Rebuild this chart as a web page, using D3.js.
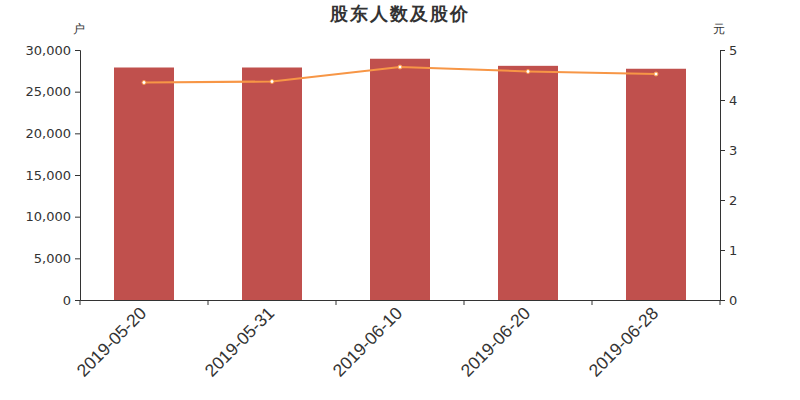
<!DOCTYPE html>
<html><head><meta charset="utf-8">
<script src="https://cdn.jsdelivr.net/npm/d3@7"></script>
<style>body{margin:0;background:#fff;}svg{display:block;font-family:"DejaVu Sans",sans-serif;}</style>
</head><body><svg id="c" width="800" height="400"></svg>
<script>
const categories = ["2019-05-20","2019-05-31","2019-06-10","2019-06-20","2019-06-28"];
const holders = [27900, 27900, 28950, 28100, 27750];
const prices = [4.35, 4.37, 4.66, 4.57, 4.52];
const leftTicks = [0,5000,10000,15000,20000,25000,30000];
const rightTicks = [0,1,2,3,4,5];

const svg = d3.select("#c");
const L=80,R=720,T=50,B=300;
const xb = d3.scaleBand().domain(categories).range([L,R]);
const yL = d3.scaleLinear().domain([0,30000]).range([B,T]);
const yR = d3.scaleLinear().domain([0,5]).range([B,T]);

svg.append("text").attr("x",400).attr("y",20).attr("text-anchor","middle")
  .attr("font-size",18).attr("font-weight","bold").attr("fill","#333").attr("letter-spacing",2).text("股东人数及股价");
svg.append("text").attr("x",79).attr("y",33).attr("text-anchor","middle").attr("font-size",12).attr("fill","#333").text("户");
svg.append("text").attr("x",719).attr("y",33).attr("text-anchor","middle").attr("font-size",12).attr("fill","#333").text("元");

svg.selectAll("rect.bar").data(categories).join("rect").attr("class","bar")
  .attr("x",d=>xb(d)+xb.bandwidth()/2-30).attr("width",60)
  .attr("y",(d,i)=>yL(holders[i])).attr("height",(d,i)=>B-yL(holders[i]))
  .attr("fill","#c0504d");

const ax = svg.append("g").attr("transform",`translate(0,${B})`)
  .call(d3.axisBottom(xb).tickSize(0).tickFormat(""));
ax.select(".domain").attr("stroke","#333");
ax.selectAll(".bt").data(d3.range(categories.length+1)).join("line")
  .attr("x1",i=>L+i*xb.step()).attr("x2",i=>L+i*xb.step()).attr("y1",0).attr("y2",5).attr("stroke","#333");
ax.selectAll(".lbl").data(categories).join("text")
  .attr("transform",d=>`translate(${xb(d)+xb.bandwidth()/2-1},${10}) rotate(-45)`)
  .attr("text-anchor","end").attr("font-size",17.5).attr("fill","#333").attr("dy","0.35em").text(d=>d);

const ayL = svg.append("g").attr("transform",`translate(${L},0)`)
  .call(d3.axisLeft(yL).tickValues(leftTicks).tickSize(5).tickPadding(4).tickFormat(d3.format(",")));
ayL.selectAll("path,line").attr("stroke","#333");
ayL.selectAll("text").attr("font-size",13).attr("fill","#333").attr("font-family","DejaVu Sans");

const ayR = svg.append("g").attr("transform",`translate(${R},0)`)
  .call(d3.axisRight(yR).tickValues(rightTicks).tickSize(5).tickPadding(4).tickFormat(d3.format("d")));
ayR.selectAll("path,line").attr("stroke","#333");
ayR.selectAll("text").attr("font-size",13).attr("fill","#333").attr("font-family","DejaVu Sans");

const line = d3.line().x((d,i)=>xb(categories[i])+xb.bandwidth()/2).y(d=>yR(d));
svg.append("path").datum(prices).attr("d",line).attr("fill","none").attr("stroke","#f79646").attr("stroke-width",2);
svg.selectAll("circle.pt").data(prices).join("circle").attr("class","pt")
  .attr("cx",(d,i)=>xb(categories[i])+xb.bandwidth()/2).attr("cy",d=>yR(d)).attr("r",2)
  .attr("fill","#fff").attr("stroke","#f79646").attr("stroke-width",1);
</script></body></html>
